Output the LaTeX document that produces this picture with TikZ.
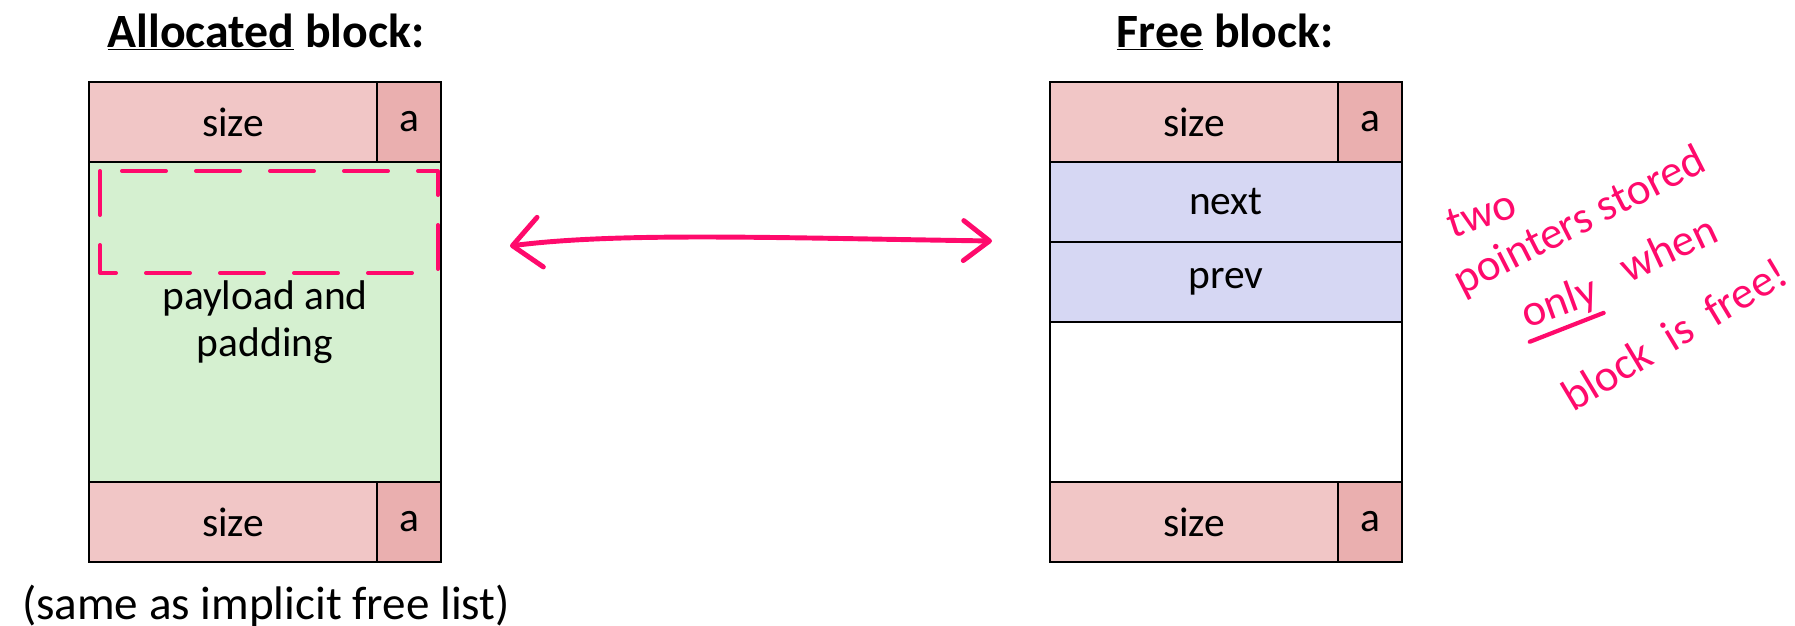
\documentclass[tikz,border=0pt]{standalone}
\usepackage{fontspec}
\setmainfont{Carlito}
\usepackage{tikz}
\usetikzlibrary{arrows.meta}

\definecolor{headpink}{HTML}{F1C6C6}
\definecolor{bitpink}{HTML}{EAAFAF}
\definecolor{payloadgreen}{HTML}{D5F0D0}
\definecolor{ptrblue}{HTML}{D6D7F3}
\definecolor{inkpink}{HTML}{FF0A6C}

\begin{document}
\begin{tikzpicture}[auto, node distance=2cm,
    cell/.style={draw, rectangle, line width=2pt, inner sep=0pt, outer sep=0pt,
                 minimum height=2cm, font=\fontsize{29.5}{33}\selectfont},
    sizecell/.style={cell, fill=headpink, minimum width=7.2cm},
    bitcell/.style={cell, fill=bitpink, minimum width=1.6cm},
    wordcell/.style={cell, minimum width=8.8cm},
    title/.style={font=\bfseries\fontsize{34}{40}\selectfont},
    hand/.style={text=inkpink, font=\fontsize{32}{36}\selectfont, inner sep=0pt},
    ink/.style={draw=inkpink, line width=3.5pt, line cap=round, line join=round}]
            \useasboundingbox (0,0) rectangle (44.875,15.65);

            % Allocated block
            \node [title] (alloctitle) at (6.65,14.85) {\underline{Allocated} block:};
            \node [sizecell] (allocsize) at (5.825,12.6) {size};
            \node [bitcell, anchor=west] (allocbit) at (allocsize.east) {a};
            \node [wordcell, fill=payloadgreen, minimum height=8cm, align=center, anchor=north west] (payload) at (allocsize.south west) {payload and\\padding};
            \node [sizecell, anchor=north west] (allocfoot) at (payload.south west) {size};
            \node [bitcell, anchor=west] (allocfootbit) at (allocfoot.east) {a};
            \node [anchor=base, font=\fontsize{33.5}{38}\selectfont] (note) at (6.65,0.15) {(same as implicit free list)};

            % Free block
            \node [title] (freetitle) at (30.625,14.85) {\underline{Free} block:};
            \node [sizecell] (freesize) at (29.85,12.6) {size};
            \node [bitcell, anchor=west] (freebit) at (freesize.east) {a};
            \node [wordcell, fill=ptrblue, anchor=north west] (next) at (freesize.south west) {next};
            \node [wordcell, fill=ptrblue, anchor=north west] (prev) at (next.south west) {prev};
            \node [wordcell, fill=white, minimum height=4cm, anchor=north west] (empty) at (prev.south west) {};
            \node [sizecell, anchor=north west] (freefoot) at (empty.south west) {size};
            \node [bitcell, anchor=west] (freefootbit) at (freefoot.east) {a};

            % Pen marks
            \draw [ink, line width=2.8pt, dash pattern=on 1.1cm off 0.75cm]
                ([shift={(0.275,-0.225)}]payload.north west) rectangle ([shift={(-0.075,-2.775)}]payload.north east);
            \coordinate (leftend) at (12.75,9.5);
            \coordinate (rightend) at (24.8,9.625);
            \draw [ink, {Straight Barb[round, length=0.7cm, width=1.25cm]}-{Straight Barb[round, length=0.65cm, width=1cm]}]
                (leftend) .. controls (15.5,9.85) and (19.5,9.7) .. (rightend);

            \node [hand, rotate=18] (two) at (37.03,10.3) {two};
            \node [hand, rotate=27] (pointers) at (39.5,10.1) {pointers stored};
            \node [hand, rotate=25] (when) at (41.7,9.45) {when};
            \node [hand, rotate=20] (only) at (39.0,8.05) {only};
            \draw [ink, line width=3pt] ([yshift=-0.15cm]only.south west) -- ([yshift=-0.1cm]only.south east);
            \node [hand, rotate=31] (blockfree) at (41.85,7.3) {block\ \ is\ \ free!};

        \end{tikzpicture}
\end{document}
